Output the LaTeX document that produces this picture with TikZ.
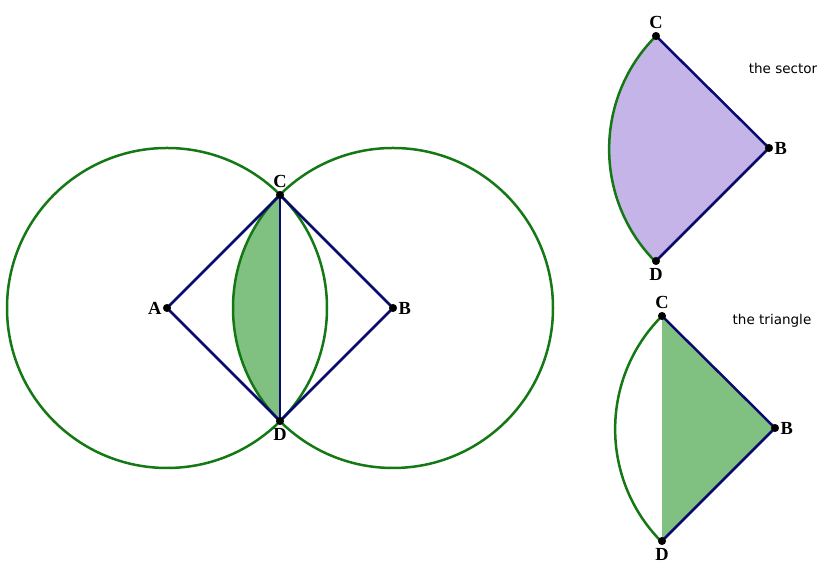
\documentclass[tikz,border=0pt]{standalone}
\usepackage{fontspec}
\setmainfont{Liberation Serif}
\newfontfamily\notefont{DejaVu Sans}
\definecolor{circgreen}{RGB}{20,120,20}
\definecolor{lensgreen}{RGB}{128,192,128}
\definecolor{sectorlilac}{RGB}{196,180,232}
\definecolor{segnavy}{RGB}{10,10,110}

\begin{document}
\begin{tikzpicture}[x=0.02cm, y=0.02cm,
	circ/.style={circgreen, line width=0.5mm},
	seg/.style={segnavy, line width=0.5mm},
	pt/.style={font=\bfseries\fontsize{10.5}{12}\selectfont, inner sep=1pt},
	note/.style={font=\notefont\fontsize{7.7}{9}\selectfont}]
	\useasboundingbox (0, 0) rectangle (829, 577);
	\coordinate (A) at (167, 269);
	\coordinate (B) at (393, 269);
	\coordinate (C) at (280, 382);
	\coordinate (D) at (280, 156);
	\coordinate (Cs) at (656, 541);
	\coordinate (Bs) at (769, 429);
	\coordinate (Ds) at (656, 316);
	\coordinate (Ct) at (662, 261);
	\coordinate (Bt) at (775, 149);
	\coordinate (Dt) at (662, 36);

	\fill[lensgreen] (C) arc[start angle=135, end angle=225, radius=160] -- cycle;
	\draw[circ] (A) circle[radius=160];
	\draw[circ] (B) circle[radius=160];
	\draw[seg] (A) -- (C) -- (B) -- (D) -- cycle;
	\draw[seg] (C) -- (D);
	\foreach \p in {A, B, C, D}
		\fill (\p) circle (2.3pt);
	\node[pt, left=2pt] at (A) {A};
	\node[pt, right=2pt] at (B) {B};
	\node[pt, above=3pt] at (C) {C};
	\node[pt, below=3pt] at (D) {D};

	\fill[sectorlilac] (Bs) -- (Cs) arc[start angle=135, end angle=225, radius=160] -- cycle;
	\draw[circ] (Cs) arc[start angle=135, end angle=225, radius=160];
	\draw[seg] (Cs) -- (Bs) -- (Ds);
	\foreach \p in {Cs, Bs, Ds}
		\fill (\p) circle (2.3pt);
	\node[pt, above=3pt] at (Cs) {C};
	\node[pt, right=2pt] at (Bs) {B};
	\node[pt, below=3pt] at (Ds) {D};
	\node[note] (sector) at (783, 509) {the sector};

	\fill[lensgreen] (Ct) -- (Bt) -- (Dt) -- cycle;
	\draw[circ] (Ct) arc[start angle=135, end angle=225, radius=160];
	\draw[seg] (Ct) -- (Bt) -- (Dt);
	\foreach \p in {Ct, Bt, Dt}
		\fill (\p) circle (2.3pt);
	\node[pt, above=3pt] at (Ct) {C};
	\node[pt, right=2pt] at (Bt) {B};
	\node[pt, below=3pt] at (Dt) {D};
	\node[note] (triangle) at (772, 256) {the triangle};
\end{tikzpicture}
\end{document}
